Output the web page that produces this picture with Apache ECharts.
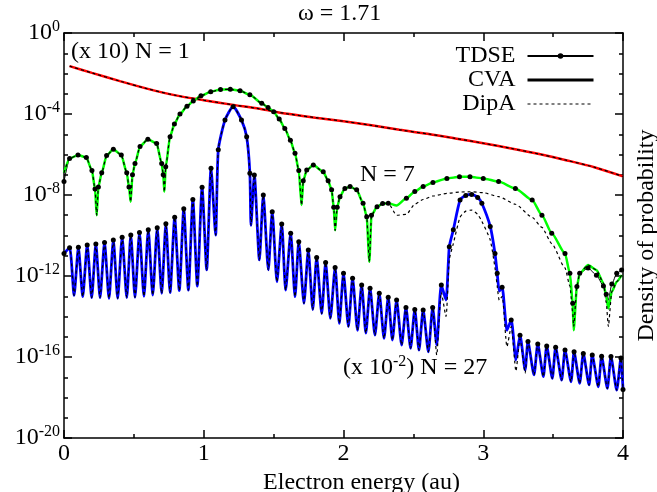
<!DOCTYPE html>
<html><head><meta charset="utf-8">
<script src="https://cdn.jsdelivr.net/npm/echarts@6/dist/echarts.min.js"></script>
<style>html,body{margin:0;padding:0;background:#fff}#c{width:657px;height:492px}</style>
</head><body><div id="c"></div>
<script>
const FONT = 'Liberation Serif';
const xTickLabels = ['0', '1', '2', '3', '4'];
const yTickExponents = [0, -4, -8, -12, -16, -20];

// N = 1 (x 10)
const n1X = [0.04,0.2,0.4,0.6,0.8,1.0,1.2,1.4,1.6,1.8,2.0,2.2,2.4,2.6,2.8,3.0,3.2,3.4,3.6,3.8,4.0];
const n1Cva = [2.3e-2,1.07e-2,4.2e-3,1.74e-3,8.3e-4,4.8e-4,2.9e-4,1.8e-4,1.02e-4,6.6e-5,4.4e-5,2.75e-5,1.66e-5,1.05e-5,6.2e-6,3.6e-6,2.0e-6,1.05e-6,5.1e-7,2.3e-7,8.3e-8];
const n1Dip = [2.3e-2,1.07e-2,4.2e-3,1.74e-3,8.3e-4,4.8e-4,2.9e-4,1.8e-4,1.02e-4,6.6e-5,4.4e-5,2.75e-5,1.66e-5,1.05e-5,6.2e-6,3.6e-6,2.0e-6,1.05e-6,5.1e-7,2.3e-7,8.3e-8];

// N = 7
const n7X = [0.000,0.040,0.100,0.160,0.200,0.222,0.234,0.246,0.270,0.305,
0.353,0.410,0.449,0.465,0.477,0.490,0.508,0.544,0.600,0.663,
0.699,0.710,0.718,0.728,0.759,0.790,0.830,0.880,0.925,0.980,
1.050,1.120,1.190,1.260,1.330,1.415,1.460,1.500,1.540,1.580,
1.620,1.653,1.680,1.700,1.712,1.737,1.784,1.855,1.890,1.915,
1.930,1.940,1.955,1.975,2.010,2.047,2.094,2.140,2.166,2.185,
2.200,2.240,2.280,2.320,2.380,2.450,2.510,2.570,2.640,2.740,
2.830,2.905,3.000,3.110,3.230,3.350,3.420,3.490,3.585,3.620,
3.640,3.647,3.670,3.690,3.750,3.810,3.860,3.880,3.895,3.920,
3.955,3.990];
const n7Cva = [1.26e-7,6.3e-7,9.5e-7,7.1e-7,1.6e-7,2.0e-8,1.0e-9,2.5e-8,1.26e-7,8.9e-7,
1.8e-6,9.5e-7,1.26e-7,2.5e-8,4.7e-9,1.0e-7,3.6e-7,2.5e-6,5.6e-6,3.5e-6,
3.6e-7,1.0e-7,1.45e-8,2.5e-7,7.6e-6,3.2e-5,1.0e-4,2.4e-4,4.4e-4,7.9e-4,
1.26e-3,1.6e-3,1.66e-3,1.4e-3,8.9e-4,3.4e-4,2.1e-4,1.3e-4,5.6e-5,1.95e-5,
5.0e-6,1.15e-6,1.6e-7,3.2e-9,5.0e-8,1.7e-7,3.0e-7,1.4e-7,5.0e-8,1.8e-8,
2.5e-9,1.8e-10,2.5e-9,8.3e-9,2.1e-8,2.6e-8,1.8e-8,3.9e-9,8.5e-10,5.1e-12,
1.0e-9,2.6e-9,3.8e-9,3.9e-9,3.0e-9,6.9e-9,1.5e-8,2.6e-8,4.2e-8,6.6e-8,
7.9e-8,7.9e-8,6.6e-8,4.6e-8,2.1e-8,5.6e-9,1.0e-9,1.3e-10,1.3e-11,1.35e-12,
4.5e-14,2.1e-15,3.0e-13,1.35e-12,3.5e-12,2.0e-12,4.4e-13,9.5e-14,2.5e-14,1.7e-13,
5.2e-13,1.1e-12];
const n7Tdse = [4.6e-8,6.3e-7,9.5e-7,7.1e-7,1.6e-7,2.0e-8,1.0e-9,2.5e-8,1.26e-7,8.9e-7,
1.8e-6,9.5e-7,1.26e-7,2.5e-8,4.7e-9,1.0e-7,3.6e-7,2.5e-6,5.6e-6,3.5e-6,
3.6e-7,1.0e-7,1.45e-8,2.5e-7,7.6e-6,3.2e-5,1.0e-4,2.4e-4,4.4e-4,7.9e-4,
1.26e-3,1.6e-3,1.66e-3,1.4e-3,8.9e-4,3.4e-4,2.1e-4,1.3e-4,5.6e-5,1.95e-5,
5.0e-6,1.15e-6,1.6e-7,3.2e-9,5.0e-8,1.7e-7,3.0e-7,1.4e-7,5.0e-8,1.8e-8,
2.5e-9,1.8e-10,2.5e-9,8.3e-9,2.1e-8,2.6e-8,1.8e-8,3.9e-9,8.5e-10,5.1e-12,
1.0e-9,2.6e-9,3.8e-9,3.9e-9,3.0e-9,6.9e-9,1.5e-8,2.6e-8,4.2e-8,6.6e-8,
7.9e-8,7.9e-8,6.6e-8,4.6e-8,2.1e-8,5.6e-9,1.0e-9,1.3e-10,1.3e-11,1.35e-12,
4.5e-14,2.1e-15,3.0e-13,1.35e-12,2.5e-12,1.1e-12,3.2e-13,1.26e-13,6.3e-14,4.0e-13,
1.35e-12,2.0e-12];
const n7Dip = [1.26e-7,6.3e-7,9.5e-7,7.1e-7,1.6e-7,2.0e-8,1.0e-9,2.5e-8,1.26e-7,8.9e-7,
1.8e-6,9.5e-7,1.26e-7,2.5e-8,4.7e-9,1.0e-7,3.6e-7,2.5e-6,5.6e-6,3.5e-6,
3.6e-7,1.0e-7,1.45e-8,2.5e-7,7.6e-6,3.2e-5,1.0e-4,2.4e-4,4.4e-4,7.9e-4,
1.26e-3,1.6e-3,1.66e-3,1.4e-3,8.9e-4,3.4e-4,2.1e-4,1.3e-4,5.6e-5,1.95e-5,
5.0e-6,1.15e-6,1.6e-7,3.2e-9,5.0e-8,1.7e-7,3.0e-7,1.4e-7,5.0e-8,1.8e-8,
2.5e-9,1.8e-10,2.5e-9,8.3e-9,2.1e-8,2.6e-8,1.8e-8,3.9e-9,8.5e-10,5.1e-12,
1.0e-9,2.6e-9,3.8e-9,3.9e-9,1.0e-9,1.1e-9,3.5e-9,6.0e-9,8.9e-9,1.2e-8,
1.4e-8,1.45e-8,1.3e-8,8.3e-9,3.5e-9,7.9e-10,2.5e-10,4.0e-11,2.5e-12,3.2e-13,
1.6e-14,3.2e-15,3.0e-13,1.35e-12,3.5e-12,2.0e-12,4.4e-13,5.0e-14,3.2e-15,1.7e-13,
5.2e-13,1.1e-12];

// N = 27 (x 10^-2)
const n27X = [0.000,0.040,0.072,0.103,0.134,0.166,0.198,0.228,0.258,0.290,
0.322,0.353,0.384,0.416,0.449,0.478,0.508,0.540,0.572,0.603,
0.635,0.667,0.699,0.729,0.759,0.792,0.825,0.857,0.890,0.922,
0.954,0.988,1.021,1.052,1.085,1.104,1.152,1.210,1.270,1.307,
1.330,1.338,1.362,1.398,1.426,1.462,1.490,1.524,1.558,1.586,
1.622,1.653,1.680,1.717,1.748,1.780,1.808,1.844,1.872,1.906,
1.940,1.970,2.000,2.035,2.065,2.100,2.130,2.160,2.190,2.225,
2.256,2.290,2.320,2.350,2.380,2.416,2.447,2.480,2.510,2.540,
2.570,2.607,2.638,2.667,2.700,2.733,2.757,2.786,2.834,2.875,
2.917,2.960,2.990,3.050,3.084,3.100,3.115,3.135,3.170,3.200,
3.234,3.263,3.300,3.320,3.363,3.390,3.430,3.454,3.494,3.518,
3.561,3.585,3.628,3.650,3.690,3.716,3.757,3.780,3.823,3.847,
3.888,3.914,3.955,3.985,4.000];
const n27Cva = [1.3e-11,2.5e-11,1.1e-13,2.6e-11,9.5e-14,3.4e-11,8.5e-14,3.8e-11,8.5e-14,4.5e-11,
7.9e-14,6.0e-11,7.9e-14,8.1e-11,8.5e-14,1.05e-10,8.9e-14,1.4e-10,1.0e-13,1.9e-10,
1.15e-13,2.4e-10,1.4e-13,3.8e-10,1.5e-13,7.9e-10,1.9e-13,2.1e-9,2.0e-13,6.0e-9,
3.2e-13,2.4e-8,2.0e-12,2.1e-7,1.05e-10,1.7e-6,5.0e-5,2.3e-4,5.0e-5,7.6e-6,
1.2e-7,3.2e-10,9.8e-8,6.2e-12,1.0e-8,2.0e-12,1.5e-9,5.2e-13,3.7e-10,2.0e-13,
1.3e-10,9.5e-14,4.9e-11,4.5e-14,1.9e-11,2.2e-14,8.3e-12,1.4e-14,4.6e-12,8.1e-15,
2.6e-12,4.6e-15,1.35e-12,3.2e-15,7.8e-13,2.1e-15,3.6e-13,1.5e-15,2.5e-13,1.2e-15,
1.4e-13,8.3e-16,8.9e-14,6.9e-16,6.5e-14,3.9e-16,2.8e-14,2.7e-16,2.2e-14,2.2e-16,
2.1e-14,1.8e-16,2.8e-14,4.0e-16,3.6e-13,6.5e-14,2.8e-11,1.9e-10,5.6e-9,9.5e-9,
1.07e-8,7.6e-9,3.9e-9,2.8e-10,1.3e-11,1.35e-12,1.8e-13,2.8e-13,2.1e-15,6.8e-15,
7.1e-17,1.2e-15,2.3e-17,5.8e-16,1.3e-17,4.4e-16,1.07e-17,3.5e-16,8.9e-18,3.0e-16,
7.2e-18,2.2e-16,6.0e-18,1.8e-16,5.0e-18,1.5e-16,4.2e-18,1.26e-16,3.4e-18,1.1e-16,
2.8e-18,1.05e-16,2.3e-18,8.9e-17,2.5e-18];
const n27Dip = [1.3e-11,2.5e-11,1.1e-13,2.6e-11,9.5e-14,3.4e-11,8.5e-14,3.8e-11,8.5e-14,4.5e-11,
7.9e-14,6.0e-11,7.9e-14,8.1e-11,8.5e-14,1.05e-10,8.9e-14,1.4e-10,1.0e-13,1.9e-10,
1.15e-13,2.4e-10,1.4e-13,3.8e-10,1.5e-13,7.9e-10,1.9e-13,2.1e-9,2.0e-13,6.0e-9,
3.2e-13,2.4e-8,2.0e-12,2.1e-7,1.05e-10,1.7e-6,5.0e-5,2.3e-4,5.0e-5,7.6e-6,
1.2e-7,3.2e-10,9.8e-8,6.2e-12,1.0e-8,2.0e-12,1.5e-9,5.2e-13,3.7e-10,2.0e-13,
1.3e-10,9.5e-14,4.9e-11,4.5e-14,1.9e-11,2.2e-14,8.3e-12,1.4e-14,4.6e-12,8.1e-15,
2.6e-12,4.6e-15,1.35e-12,3.2e-15,7.8e-13,2.1e-15,3.6e-13,1.5e-15,2.5e-13,1.2e-15,
1.4e-13,8.3e-16,8.9e-14,6.9e-16,6.5e-14,3.9e-16,2.8e-14,2.7e-16,2.2e-14,2.2e-16,
2.1e-14,1.8e-16,2.8e-14,1.26e-16,1.6e-13,1.0e-14,6.3e-12,4.0e-11,7.9e-10,1.6e-9,
1.8e-9,1.1e-9,5.0e-10,6.0e-11,2.5e-12,3.2e-13,6.3e-14,1.0e-13,3.2e-16,3.2e-15,
2.0e-17,7.9e-16,1.6e-17,5.8e-16,1.3e-17,4.4e-16,1.07e-17,3.5e-16,8.9e-18,3.0e-16,
7.2e-18,2.2e-16,6.0e-18,1.8e-16,5.0e-18,1.5e-16,4.2e-18,1.26e-16,3.4e-18,1.1e-16,
2.8e-18,1.05e-16,2.3e-18,8.9e-17,2.5e-18];
const n27Tdse = n27Cva;

function pts(xs, ys) { return xs.map((x, i) => [x, ys[i]]); }
// TDSE points: markers hidden at local minima (sampled points do not sit in the cusps)
function tdsePts(xs, ys) {
  return xs.map((x, i) => {
    const isMin = i > 0 && i < ys.length - 1 && ys[i] < ys[i - 1] && ys[i] < ys[i + 1];
    return isMin ? {value: [x, ys[i]], symbolSize: 0} : [x, ys[i]];
  });
}

const chart = echarts.init(document.getElementById('c'), null, {renderer: 'canvas'});
const black = '#000';
const tickStyle = {color: black, width: 1.5};
const txt = {fontFamily: FONT, fontSize: 24, color: black};

function yLabel(v) {
  const e = Math.round(Math.log10(v));
  if (yTickExponents.indexOf(e) < 0) return '';
  return '{b|10}{s|' + e + '}';
}
function xLabel(v) {
  const i = Math.round(v);
  return Math.abs(v - i) < 1e-6 ? xTickLabels[i] : '';
}
const yRich = {
  b: {fontFamily: FONT, fontSize: 24, color: black, lineHeight: 28},
  s: {fontFamily: FONT, fontSize: 16, color: black, verticalAlign: 'top', lineHeight: 16}
};

function xAx(pos, interval, len, labels, extra) {
  return Object.assign({
    type: 'value', min: 0, max: 4, interval: interval, position: pos,
    axisLine: {show: len > 5, onZero: false, lineStyle: {color: black, width: 1.5}},
    axisTick: {show: true, inside: true, length: len, lineStyle: tickStyle},
    axisLabel: labels ? Object.assign({show: true, margin: 4, formatter: xLabel}, txt) : {show: false},
    splitLine: {show: false}
  }, extra || {});
}
function yAx(pos, interval, len, labels, extra) {
  return Object.assign({
    type: 'log', logBase: 10, min: 1e-20, max: 1, interval: interval, position: pos,
    axisLine: {show: len > 5, onZero: false, lineStyle: {color: black, width: 1.5}},
    axisTick: {show: true, inside: true, length: len, lineStyle: tickStyle},
    axisLabel: labels ? {show: true, margin: 4, formatter: yLabel, rich: yRich} : {show: false},
    splitLine: {show: false}
  }, extra || {});
}

const lineBase = {type: 'line', xAxisIndex: 0, yAxisIndex: 0, animation: false, silent: true};

chart.setOption({
  animation: false,
  backgroundColor: '#fff',
  title: {text: 'ω = 1.71', left: 293, top: -3,
    textStyle: {fontFamily: FONT, fontSize: 24, fontWeight: 'normal', color: black}},
  grid: {left: 64, right: 34, top: 33, bottom: 54, containLabel: false, outerBoundsMode: 'none'},
  legend: {
    data: [
      {name: 'TDSE'},
      {name: 'CVA', itemStyle: {opacity: 0}, lineStyle: {width: 3}},
      {name: 'DipA', itemStyle: {opacity: 0}, lineStyle: {width: 1.2}}
    ],
    orient: 'vertical', right: 57, top: 39, align: 'right',
    itemWidth: 66, itemHeight: 7, itemGap: 0, selectedMode: false,
    textStyle: {fontFamily: FONT, fontSize: 24, color: black, padding: [0, 7, 0, 0]}
  },
  xAxis: [
    xAx('bottom', 1, 8, true, {name: 'Electron energy (au)', nameLocation: 'middle', nameGap: 27,
      nameTextStyle: {fontFamily: FONT, fontSize: 24, color: black, padding: [0, 0, 0, 36]}}),
    xAx('bottom', 0.5, 4, false),
    xAx('top', 1, 8, false),
    xAx('top', 0.5, 4, false)
  ],
  yAxis: [
    yAx('left', 4, 8, true),
    yAx('left', 1, 4, false),
    yAx('right', 4, 8, false, {name: 'Density of probability', nameLocation: 'middle', nameRotate: 90, nameGap: 12,
      nameTextStyle: {fontFamily: FONT, fontSize: 24, color: black}}),
    yAx('right', 1, 4, false)
  ],
  series: [
    Object.assign({}, lineBase, {name: 'TDSE', data: tdsePts(n7X, n7Tdse), symbol: 'circle', symbolSize: 5, showSymbol: true,
      lineStyle: {color: black, width: 1}, itemStyle: {color: black}, smooth: 0.2, smoothMonotone: 'x'}),
    Object.assign({}, lineBase, {name: 'TDSE', data: tdsePts(n27X, n27Tdse), symbol: 'circle', symbolSize: 5, showSymbol: true,
      lineStyle: {color: black, width: 1}, itemStyle: {color: black}, smooth: 0.2}),
    Object.assign({}, lineBase, {name: 'CVA', data: [], symbol: 'none', lineStyle: {color: black, width: 3}, itemStyle: {color: black}}),
    Object.assign({}, lineBase, {name: 'CVA N=1', data: pts(n1X, n1Cva), symbol: 'none', smooth: 0.3,
      lineStyle: {color: '#ff0000', width: 2.5}, itemStyle: {color: '#ff0000'}}),
    Object.assign({}, lineBase, {name: 'CVA N=7', data: pts(n7X, n7Cva), symbol: 'none', smooth: 0.2, smoothMonotone: 'x',
      lineStyle: {color: '#00ff00', width: 2.5}, itemStyle: {color: '#00ff00'}}),
    Object.assign({}, lineBase, {name: 'CVA N=27', data: pts(n27X, n27Cva), symbol: 'none', smooth: 0.2,
      lineStyle: {color: '#0000ff', width: 2.8}, itemStyle: {color: '#0000ff'}}),
    Object.assign({}, lineBase, {name: 'DipA', data: pts(n1X, n1Dip), symbol: 'none', smooth: 0.3,
      lineStyle: {color: black, width: 1.2, type: [3, 3]}, itemStyle: {color: black}}),
    Object.assign({}, lineBase, {name: 'DipA', data: pts(n7X, n7Dip), symbol: 'none', smooth: 0.2, smoothMonotone: 'x',
      lineStyle: {color: black, width: 1.2, type: [3, 3]}, itemStyle: {color: black}}),
    Object.assign({}, lineBase, {name: 'DipA', data: pts(n27X, n27Dip), symbol: 'none', smooth: 0.2,
      lineStyle: {color: black, width: 1.2, type: [3, 3]}, itemStyle: {color: black}})
  ],
  graphic: [
    {type: 'text', left: 71, top: 40, silent: true,
      style: {text: '(x 10) N = 1', font: '24px "Liberation Serif"', fill: black}},
    {type: 'text', left: 360, top: 163, silent: true,
      style: {text: 'N = 7', font: '24px "Liberation Serif"', fill: black}},
    {type: 'text', left: 343, top: 354, silent: true,
      style: {text: '{a|(x 10}{s|-2}{a|) N = 27}', fill: black,
        rich: {a: {fontFamily: FONT, fontSize: 24, lineHeight: 28, fill: black},
               s: {fontFamily: FONT, fontSize: 16, lineHeight: 16, verticalAlign: 'top', fill: black}}}}
  ]
});
</script></body></html>
